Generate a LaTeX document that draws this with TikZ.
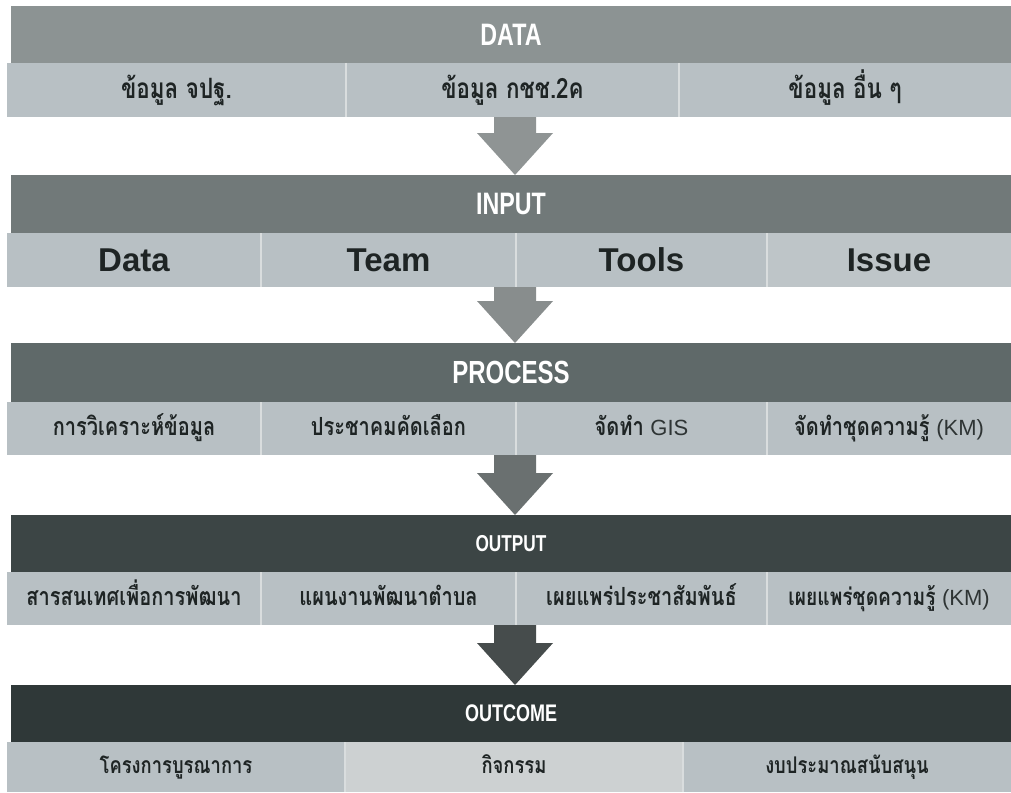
\documentclass[tikz,border=0pt]{standalone}
\usepackage{fontspec}
\setmainfont{Liberation Sans}
\newfontfamily\hdfont[FakeStretch=0.75]{Liberation Sans}
\newfontfamily\latfont{Liberation Sans}
\newfontfamily\thaifont[Script=Thai,FakeStretch=0.8]{Loma}
\usetikzlibrary{calc}
\definecolor{hdA}{HTML}{8C9393}
\definecolor{hdB}{HTML}{717979}
\definecolor{hdC}{HTML}{5F6969}
\definecolor{hdD}{HTML}{3C4545}
\definecolor{hdE}{HTML}{2F3838}
\definecolor{subA}{HTML}{B8C0C4}
\definecolor{subB}{HTML}{BEC5C8}
\definecolor{subC}{HTML}{CDD1D2}
\definecolor{sepc}{HTML}{D9DDDE}
\definecolor{txtc}{HTML}{1E2424}
\definecolor{lightc}{HTML}{2E3434}
\definecolor{arA}{HTML}{8F9494}
\definecolor{arB}{HTML}{888D8D}
\definecolor{arC}{HTML}{6A7070}
\definecolor{arD}{HTML}{464C4C}
\tikzset{
  hdr/.style={rectangle, anchor=north west, inner sep=0pt, outer sep=0pt, text=white, font=\hdfont\bfseries},
  cell/.style={rectangle, anchor=north west, inner sep=0pt, outer sep=0pt, fill=subA, text=txtc},
  th/.style={font=\thaifont\bfseries\fontsize{#1}{#1}\selectfont, text height=0.76*#1 pt, text depth=0.18*#1 pt},
  sepline/.style={draw=sepc, line width=1.5pt},
}
\newcommand\blockarr[3]{%
  \fill[#3] let \p1=(#1.south), \p2=(#2.north) in
    (\x2-17pt,\y1) -- (\x2+25pt,\y1) -- (\x2+25pt,\y2+42pt) -- (\x2+42pt,\y2+42pt)
    -- (\x2+4pt,\y2) -- (\x2-34pt,\y2+42pt) -- (\x2-17pt,\y2+42pt) -- cycle;}
\newcommand\lat[1]{{\latfont\mdseries\fontsize{22}{22}\selectfont\color{lightc}#1}}
\begin{document}
\begin{tikzpicture}[x=1pt,y=-1pt]
\useasboundingbox[fill=white] (0,0) rectangle (1011,792);
% DATA
\node[hdr, fill=hdA, minimum width=1000pt, minimum height=57pt, font=\hdfont\bfseries\fontsize{31}{31}\selectfont] (hdata) at (11,6) {DATA};
\node[cell, minimum width=339pt, minimum height=54pt, th=28] (d1) at (7,63) {ข้อมูล จปฐ.};
\node[cell, minimum width=333pt, minimum height=54pt, th=28] (d2) at (346,63) {ข้อมูล กชช.2ค};
\node[cell, minimum width=332pt, minimum height=54pt, th=28] (d3) at (679,63) {ข้อมูล อื่น ๆ};
\draw[sepline] (d1.north east) -- (d1.south east);
\draw[sepline] (d2.north east) -- (d2.south east);
% INPUT
\node[hdr, fill=hdB, minimum width=1000pt, minimum height=58pt, font=\hdfont\bfseries\fontsize{31}{31}\selectfont] (hinput) at (11,175) {INPUT};
\node[cell, minimum width=254pt, minimum height=54pt, font=\latfont\bfseries\fontsize{33}{33}\selectfont] (i1) at (7,233) {Data};
\node[cell, minimum width=255pt, minimum height=54pt, font=\latfont\bfseries\fontsize{33}{33}\selectfont] (i2) at (261,233) {Team};
\node[cell, minimum width=251pt, minimum height=54pt, font=\latfont\bfseries\fontsize{33}{33}\selectfont] (i3) at (516,233) {Tools};
\node[cell, fill=subB, minimum width=244pt, minimum height=54pt, font=\latfont\bfseries\fontsize{33}{33}\selectfont] (i4) at (767,233) {Issue};
\draw[sepline] (i1.north east) -- (i1.south east);
\draw[sepline] (i2.north east) -- (i2.south east);
\draw[sepline] (i3.north east) -- (i3.south east);
% PROCESS
\node[hdr, fill=hdC, minimum width=1000pt, minimum height=59pt, font=\hdfont\bfseries\fontsize{32}{32}\selectfont] (hproc) at (11,343) {PROCESS};
\node[cell, minimum width=254pt, minimum height=53pt, th=25] (p1) at (7,402) {การวิเคราะห์ข้อมูล};
\node[cell, minimum width=255pt, minimum height=53pt, th=25] (p2) at (261,402) {ประชาคมคัดเลือก};
\node[cell, minimum width=251pt, minimum height=53pt, th=25] (p3) at (516,402) {จัดทำ \lat{GIS}};
\node[cell, minimum width=244pt, minimum height=53pt, th=25] (p4) at (767,402) {จัดทำชุดความรู้ \lat{(KM)}};
\draw[sepline] (p1.north east) -- (p1.south east);
\draw[sepline] (p2.north east) -- (p2.south east);
\draw[sepline] (p3.north east) -- (p3.south east);
% OUTPUT
\node[hdr, fill=hdD, minimum width=1000pt, minimum height=57pt, font=\hdfont\bfseries\fontsize{23}{23}\selectfont] (hout) at (11,515) {OUTPUT};
\node[cell, minimum width=254pt, minimum height=53pt, th=25] (o1) at (7,572) {สารสนเทศเพื่อการพัฒนา};
\node[cell, minimum width=255pt, minimum height=53pt, th=25] (o2) at (261,572) {แผนงานพัฒนาตำบล};
\node[cell, minimum width=251pt, minimum height=53pt, th=25] (o3) at (516,572) {เผยแพร่ประชาสัมพันธ์};
\node[cell, minimum width=244pt, minimum height=53pt, th=24] (o4) at (767,572) {เผยแพร่ชุดความรู้ \lat{(KM)}};
\draw[sepline] (o1.north east) -- (o1.south east);
\draw[sepline] (o2.north east) -- (o2.south east);
\draw[sepline] (o3.north east) -- (o3.south east);
% OUTCOME
\node[hdr, fill=hdE, minimum width=1000pt, minimum height=57pt, font=\hdfont\bfseries\fontsize{24}{24}\selectfont] (hoc) at (11,685) {OUTCOME};
\node[cell, minimum width=338pt, minimum height=50pt, th=23] (c1) at (7,742) {โครงการบูรณาการ};
\node[cell, fill=subC, minimum width=338pt, minimum height=50pt, th=23] (c2) at (345,742) {กิจกรรม};
\node[cell, minimum width=328pt, minimum height=50pt, th=23] (c3) at (683,742) {งบประมาณสนับสนุน};
\draw[sepline] (c1.north east) -- (c1.south east);
\draw[sepline] (c2.north east) -- (c2.south east);
% arrows
\blockarr{d2}{hinput}{arA}
\blockarr{i2}{hproc}{arB}
\blockarr{p2}{hout}{arC}
\blockarr{o2}{hoc}{arD}
\end{tikzpicture}
\end{document}
